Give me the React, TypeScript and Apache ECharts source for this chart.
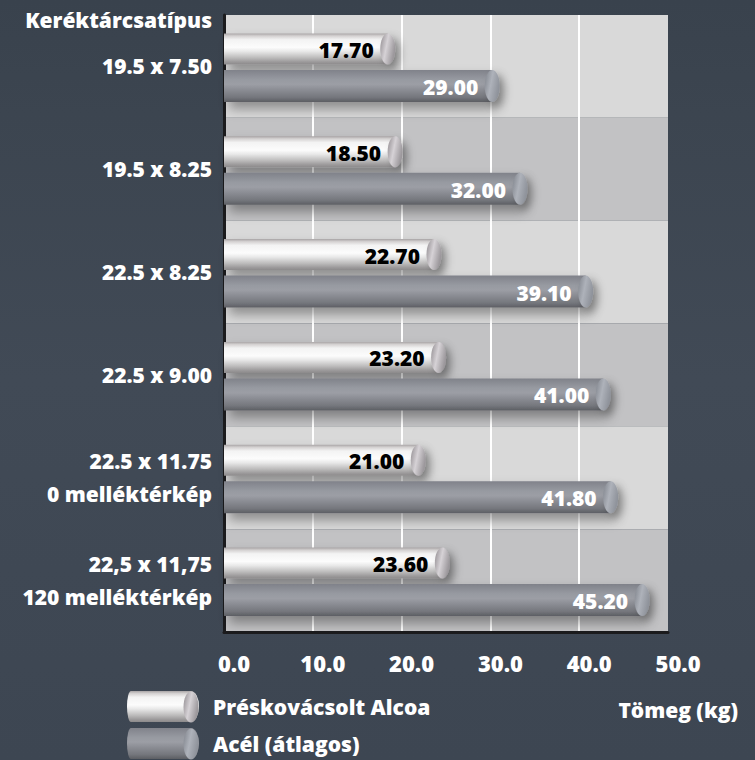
import React, { useEffect, useRef } from "react";
import * as echarts from "echarts";

const categories = [
  "19.5 x 7.50",
  "19.5 x 8.25",
  "22.5 x 8.25",
  "22.5 x 9.00",
  "22.5 x 11.75\n0 melléktérkép",
  "22,5 x 11,75\n120 melléktérkép",
];
const seriesNames = ["Préskovácsolt Alcoa", "Acél (átlagos)"];
const alcoa = [17.7, 18.5, 22.7, 23.2, 21.0, 23.6];
const steel = [29.0, 32.0, 39.1, 41.0, 41.8, 45.2];
const xTicks = [0, 10, 20, 30, 40, 50];
const yTitle = "Keréktárcsatípus";
const xTitle = "Tömeg (kg)";

const FONT = '"Open Sans", "Noto Sans", sans-serif';
const WEIGHT = 800;

const lg = (x: number, y: number, x2: number, y2: number, stops: [number, string][]) =>
  new echarts.graphic.LinearGradient(
    x, y, x2, y2,
    stops.map(([offset, color]) => ({ offset, color }))
  );

const alcoaBody = () =>
  lg(0, 0, 0, 1, [
    [0, "#a8a4a5"],
    [0.08, "#d4d1d1"],
    [0.2, "#f3f3f3"],
    [0.45, "#fcfcfc"],
    [0.58, "#e8e8e8"],
    [0.78, "#bdbcbc"],
    [0.92, "#9b999a"],
    [1, "#8c8a8b"],
  ]);
const steelBody = () =>
  lg(0, 0, 0, 1, [
    [0, "#80828a"],
    [0.3, "#979aa1"],
    [0.45, "#9c9ea5"],
    [0.6, "#8d8f96"],
    [0.85, "#75777d"],
    [1, "#5c5e63"],
  ]);
const alcoaCap = () =>
  lg(0, 0, 1, 0.4, [
    [0, "#8f8a8e"],
    [0.5, "#d6d2d6"],
    [1, "#9c989c"],
  ]);
const steelCap = () =>
  lg(0, 0, 1, 0.4, [
    [0, "#7f838b"],
    [0.5, "#aeb2ba"],
    [1, "#8f939b"],
  ]);

function makeRender(idx: number) {
  return (params: any, api: any) => {
    const v = api.value(0);
    const cat = api.value(1);
    const band = api.size([0, 1])[1];
    const h = idx === 0 ? 31 : 32;
    const off = (idx === 0 ? -0.17 : 0.19) * band;
    const start = api.coord([0, cat]);
    const end = api.coord([v, cat]);
    const cy = start[1] + off;
    const capRx = 7.5;
    const body = idx === 0 ? alcoaBody() : steelBody();
    const cap = idx === 0 ? alcoaCap() : steelCap();
    const label = v.toFixed(2);
    return {
      type: "group",
      children: [
        {
          type: "rect",
          shape: { x: start[0], y: cy - h / 2, width: end[0] - start[0], height: h },
          style: {
            fill: body,
            shadowColor: "rgba(0,0,0,0.35)",
            shadowBlur: 12,
            shadowOffsetX: 5,
            shadowOffsetY: 7,
          },
        },
        {
          type: "ellipse",
          shape: { cx: end[0], cy, rx: capRx, ry: h / 2 },
          style: {
            fill: cap,
            shadowColor: "rgba(0,0,0,0.3)",
            shadowBlur: 8,
            shadowOffsetX: 5,
            shadowOffsetY: 5,
          },
        },
        {
          type: "text",
          style: {
            text: label,
            x: end[0] - 14,
            y: cy + 1,
            align: "right",
            verticalAlign: "middle",
            fill: idx === 0 ? "#000" : "#fff",
            fontSize: 21,
            fontWeight: WEIGHT,
            fontFamily: FONT,
          },
        },
      ],
    };
  };
}

export default function App() {
  const ref = useRef<HTMLDivElement>(null);
  useEffect(() => {
    document.body.style.margin = "0";
    if (!ref.current) return;
    const chart = echarts.init(ref.current, null, { renderer: "svg" });
    const option: any = {
      animation: false,
      backgroundColor: lg(0, 0, 0, 1, [
        [0, "#39424d"],
        [0.15, "#3c4550"],
        [0.5, "#414a56"],
        [1, "#3d4652"],
      ]),
      grid: { left: 224, right: 87, top: 15, bottom: 128, containLabel: false },
      legend: {
        orient: "vertical",
        left: 127,
        top: 691,
        height: 120,
        padding: 0,
        z: 3,
        itemWidth: 72,
        itemHeight: 31,
        itemGap: 6,
        icon: "path://M4,0 L64,0 A8,15.5 0 0 1 64,31 L4,31 A4,15.5 0 0 1 4,0 Z",
        data: seriesNames,
        textStyle: {
          color: "#fff",
          fontSize: 21,
          lineHeight: 31,
          fontWeight: WEIGHT,
          fontFamily: FONT,
          padding: [0, 0, 0, 9],
        },
      },
      xAxis: [
        {
          type: "value",
          min: 0,
          max: 50,
          interval: 10,
          z: 1,
          axisLine: { show: true, lineStyle: { color: "#1b1b1d", width: 3 } },
          axisTick: { show: false },
          axisLabel: {
            color: "#fff",
            fontSize: 22,
            fontWeight: WEIGHT,
            fontFamily: FONT,
            margin: 20,
            padding: [0, 0, 0, 20],
            formatter: (v: number) => v.toFixed(1),
          },
          splitLine: {
            show: true,
            showMinLine: false,
            showMaxLine: false,
            lineStyle: { color: "#ffffff", width: 2 },
          },
        },
        {
          type: "value",
          min: 0,
          max: 48,
          show: false,
          splitLine: { show: false },
        },
      ],
      yAxis: {
        type: "category",
        data: categories,
        inverse: true,
        z: 0,
        axisLine: { show: true, lineStyle: { color: "#1b1b1d", width: 3 } },
        axisTick: { show: false },
        axisLabel: {
          color: "#fff",
          fontSize: 21,
          fontWeight: WEIGHT,
          fontFamily: FONT,
          margin: 12,
          lineHeight: 33,
          align: "right",
        },
        splitArea: { show: true, areaStyle: { color: ["#d9d9d9", "#c2c2c4"] } },
        splitLine: { show: false },
      },
      graphic: [
        {
          type: "ellipse",
          z: 50,
          silent: true,
          shape: { cx: 191, cy: 707, rx: 7.5, ry: 15.5 },
          style: { fill: alcoaCap() },
        },
        {
          type: "ellipse",
          z: 50,
          silent: true,
          shape: { cx: 191, cy: 744, rx: 7.5, ry: 15.5 },
          style: { fill: steelCap() },
        },
        {
          type: "text",
          x: 212,
          y: 20,
          style: {
            text: yTitle,
            fill: "#fff",
            fontSize: 21,
            fontWeight: WEIGHT,
            fontFamily: FONT,
            align: "right",
            verticalAlign: "middle",
          },
        },
        {
          type: "text",
          x: 738,
          y: 710,
          style: {
            text: xTitle,
            fill: "#fff",
            fontSize: 21,
            fontWeight: WEIGHT,
            fontFamily: FONT,
            align: "right",
            verticalAlign: "middle",
          },
        },
      ],
      series: [
        {
          type: "custom",
          name: seriesNames[0],
          xAxisIndex: 1,
          yAxisIndex: 0,
          itemStyle: { color: alcoaBody() },
          encode: { x: 0, y: 1 },
          data: alcoa.map((v, i) => [v, i]),
          renderItem: makeRender(0),
        },
        {
          type: "custom",
          name: seriesNames[1],
          xAxisIndex: 1,
          yAxisIndex: 0,
          itemStyle: { color: steelBody() },
          encode: { x: 0, y: 1 },
          data: steel.map((v, i) => [v, i]),
          renderItem: makeRender(1),
        },
      ],
    };
    chart.setOption(option);
    return () => chart.dispose();
  }, []);
  return <div ref={ref} style={{ width: 755, height: 760 }} />;
}
